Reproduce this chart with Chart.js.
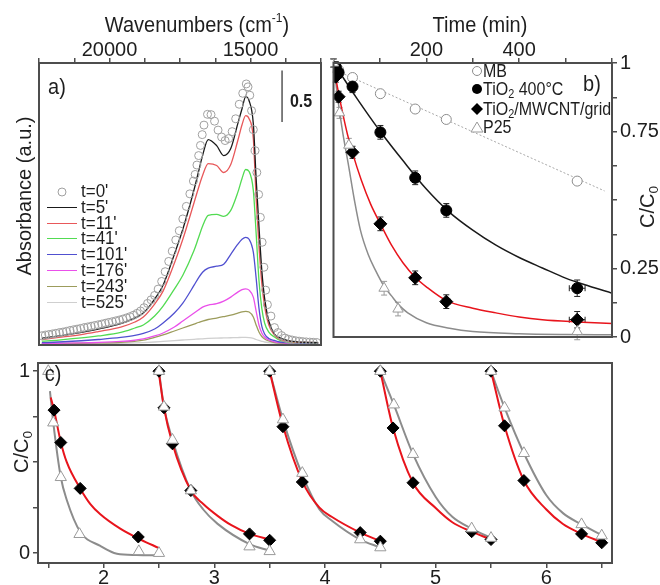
<!DOCTYPE html>
<html>
<head>
<meta charset="utf-8">
<script src="https://cdn.jsdelivr.net/npm/chart.js@4/dist/chart.umd.min.js"></script>
<style>
body { margin: 0; background: #fff; width: 660px; height: 585px; position: relative; overflow: hidden;
       font-family: "Liberation Sans", Arial, sans-serif; color: #1e1e1e; }
.box { position: absolute; }
.c { position: absolute; transform: translate(-50%, -50%) scaleY(1.12); white-space: nowrap; line-height: 1; }
.l { position: absolute; transform: translate(0, -50%) scaleY(1.12); white-space: nowrap; line-height: 1; }
.rot { transform: translate(-50%, -50%) rotate(-90deg); }
sub { font-size: 0.68em; vertical-align: -0.3em; line-height: 0; }
sup { font-size: 0.6em; vertical-align: 0.75em; line-height: 0; }
.ln { position: absolute; left: 47px; width: 30px; height: 0; border-top: 1.5px solid; }
</style>
</head>
<body>
<div class="box" style="left:0;top:0"><canvas id="ca" width="326" height="350"></canvas></div>
<div class="box" style="left:326px;top:0"><canvas id="cb" width="334" height="350"></canvas></div>
<div class="box" style="left:0;top:350px"><canvas id="cc" width="660" height="235"></canvas></div>

<!-- panel a texts -->
<div class="c" style="left:197px;top:24px;font-size:20px">Wavenumbers (cm<sup>-1</sup>)</div>
<div class="c rot" style="left:24px;top:196px;font-size:20px">Absorbance (a.u.)</div>
<div class="c" style="left:57px;top:86px;font-size:20px">a)</div>
<div class="c" style="left:301px;top:101px;font-size:16px;font-weight:bold">0.5</div>
<svg style="position:absolute;left:56px;top:186px" width="12" height="12"><circle cx="6" cy="6" r="4" fill="none" stroke="#a0a0a0" stroke-width="1"/></svg>
<div class="l" style="left:81px;top:191px;font-size:17px">t=0'</div>
<div class="ln" style="top:207px;border-color:#1a1a1a"></div>
<div class="l" style="left:81px;top:207px;font-size:17px">t=5'</div>
<div class="ln" style="top:223px;border-color:#e8585a"></div>
<div class="l" style="left:81px;top:223px;font-size:17px">t=11'</div>
<div class="ln" style="top:238px;border-color:#52db52"></div>
<div class="l" style="left:81px;top:238px;font-size:17px">t=41'</div>
<div class="ln" style="top:254px;border-color:#5050d0"></div>
<div class="l" style="left:81px;top:254px;font-size:17px">t=101'</div>
<div class="ln" style="top:270px;border-color:#ea50ea"></div>
<div class="l" style="left:81px;top:270px;font-size:17px">t=176'</div>
<div class="ln" style="top:286px;border-color:#9c9c5c"></div>
<div class="l" style="left:81px;top:286px;font-size:17px">t=243'</div>
<div class="ln" style="top:302px;border-color:#cfcfcf"></div>
<div class="l" style="left:81px;top:302px;font-size:17px">t=525'</div>

<!-- panel b texts -->
<div class="c" style="left:480px;top:24px;font-size:20px">Time (min)</div>
<div class="c" style="left:592px;top:83px;font-size:20px">b)</div>
<div class="c rot" style="left:647px;top:207px;font-size:20px">C/C<sub>0</sub></div>
<svg style="position:absolute;left:471px;top:65px" width="12" height="12"><circle cx="6" cy="6" r="4.5" fill="#fff" stroke="#8c8c8c" stroke-width="1"/></svg>
<div class="l" style="left:483px;top:71px;font-size:16px">MB</div>
<svg style="position:absolute;left:471px;top:83px" width="12" height="12"><circle cx="6" cy="6" r="5" fill="#000"/></svg>
<div class="l" style="left:483px;top:89px;font-size:16px">TiO<sub>2</sub> 400°C</div>
<svg style="position:absolute;left:470px;top:102px" width="14" height="14"><polygon points="7,1 13,7 7,13 1,7" fill="#000"/></svg>
<div class="l" style="left:483px;top:109px;font-size:16px">TiO<sub>2</sub>/MWCNT/grid</div>
<svg style="position:absolute;left:470px;top:121px" width="14" height="12"><polygon points="7,1 13,11 1,11" fill="#fff" stroke="#9a9a9a" stroke-width="1"/></svg>
<div class="l" style="left:483px;top:127px;font-size:16px">P25</div>

<!-- panel c texts -->
<div class="c" style="left:53px;top:373px;font-size:20px">c)</div>
<div class="c rot" style="left:21px;top:452px;font-size:20px">C/C<sub>0</sub></div>

<script>
Chart.defaults.font.family = '"Liberation Sans", Arial, sans-serif';

// ---------- panel a: spectra ----------
const wnGrid = [22400, 21800, 21000, 20400, 19600, 19100, 18800, 18400, 18100, 17700, 17400, 17000,
  16850, 16700, 16500, 16200, 15950, 15700, 15450, 15300, 15170, 15050, 14900, 14800, 14700, 14600,
  14500, 14350, 14150, 13950, 13700, 13350, 13000, 12600];
const absT5 = [0.055, 0.077, 0.111, 0.144, 0.197, 0.250, 0.298, 0.433, 0.567, 0.865, 1.106, 1.490,
  1.654, 1.817, 1.971, 1.913, 1.817, 1.885, 2.125, 2.269, 2.385, 2.346, 2.125, 1.596, 1.135, 0.712,
  0.442, 0.221, 0.096, 0.058, 0.034, 0.021, 0.016, 0.013];
const absT11 = [0.043, 0.063, 0.091, 0.120, 0.163, 0.212, 0.260, 0.385, 0.510, 0.779, 1.010, 1.365,
  1.500, 1.625, 1.740, 1.721, 1.654, 1.731, 1.962, 2.115, 2.202, 2.173, 1.981, 1.404, 0.942, 0.587,
  0.365, 0.183, 0.087, 0.043, 0.024, 0.017, 0.014, 0.012];
const absT41 = [0.027, 0.038, 0.058, 0.077, 0.111, 0.154, 0.183, 0.269, 0.365, 0.529, 0.663, 0.904,
  1.019, 1.135, 1.240, 1.250, 1.231, 1.288, 1.462, 1.596, 1.683, 1.663, 1.481, 1.067, 0.615, 0.346,
  0.202, 0.115, 0.067, 0.034, 0.019, 0.013, 0.012, 0.010];
const absT101 = [0.012, 0.019, 0.031, 0.043, 0.063, 0.082, 0.101, 0.144, 0.202, 0.298, 0.394, 0.567,
  0.635, 0.692, 0.731, 0.750, 0.769, 0.865, 0.962, 1.010, 1.029, 1.010, 0.885, 0.635, 0.346, 0.173,
  0.096, 0.053, 0.034, 0.019, 0.012, 0.008, 0.007, 0.006];
const absT176 = [0.005, 0.007, 0.010, 0.014, 0.024, 0.036, 0.048, 0.077, 0.106, 0.163, 0.221, 0.298,
  0.327, 0.356, 0.375, 0.389, 0.413, 0.452, 0.500, 0.524, 0.532, 0.519, 0.452, 0.317, 0.183, 0.106,
  0.067, 0.038, 0.021, 0.012, 0.007, 0.005, 0.004, 0.004];
const absT243 = [0.002, 0.004, 0.007, 0.010, 0.016, 0.026, 0.036, 0.063, 0.087, 0.125, 0.154, 0.192,
  0.207, 0.221, 0.236, 0.250, 0.264, 0.279, 0.298, 0.310, 0.314, 0.308, 0.260, 0.183, 0.115, 0.072,
  0.048, 0.029, 0.014, 0.008, 0.005, 0.003, 0.002, 0.002];
const absT525 = [0.000, 0.001, 0.002, 0.004, 0.007, 0.010, 0.013, 0.019, 0.025, 0.033, 0.038, 0.045,
  0.048, 0.050, 0.053, 0.056, 0.058, 0.060, 0.062, 0.063, 0.063, 0.061, 0.053, 0.043, 0.034, 0.026,
  0.019, 0.013, 0.008, 0.005, 0.003, 0.002, 0.001, 0.000];

// t=0 measured points (open circles)
const wnT0 = [22400, 22275, 22150, 22025, 21900, 21775, 21650, 21525, 21400, 21275, 21150, 21025,
  20900, 20775, 20650, 20525, 20400, 20275, 20150, 20025, 19900, 19775, 19650, 19525, 19400, 19275,
  19150, 19025, 18900, 18775, 18650, 18525, 18400, 18275, 18150, 18025, 17900, 17775, 17650, 17525,
  17400, 17275, 17150, 17025, 16900, 16775, 16650, 16525, 16400, 16275, 16150, 16025, 15900, 15775,
  15650, 15525, 15400, 15275, 15150, 15025, 14900, 14775, 14650, 14525, 14400, 14275, 14150, 14025,
  13900, 13775, 13650, 13525, 13400, 13275, 13150, 13025, 12900, 12775, 12650,
  16962, 16838, 16712, 15088, 14962, 14838, 14712, 14588, 14462];
const absT0 = [0.079, 0.086, 0.091, 0.097, 0.103, 0.110, 0.115, 0.122, 0.130, 0.137, 0.143, 0.150,
  0.158, 0.164, 0.171, 0.178, 0.185, 0.192, 0.200, 0.208, 0.215, 0.223, 0.231, 0.240, 0.251, 0.263,
  0.277, 0.295, 0.318, 0.350, 0.391, 0.426, 0.468, 0.529, 0.603, 0.697, 0.796, 0.895, 1.003, 1.092,
  1.206, 1.327, 1.448, 1.571, 1.726, 1.915, 2.111, 2.215, 2.212, 2.149, 2.063, 1.996, 1.962, 1.981,
  2.048, 2.172, 2.312, 2.418, 2.508, 2.399, 2.067, 1.654, 1.221, 0.740, 0.379, 0.269, 0.158, 0.110,
  0.081, 0.057, 0.045, 0.038, 0.031, 0.027, 0.023, 0.020, 0.018, 0.016, 0.014,
  1.635, 1.817, 2.019, 2.480, 2.250, 1.865, 1.442, 0.981, 0.519];

const scaleBarWn = [13881, 13881];
const scaleBarAbs = [2.141, 2.637];

// ---------- panel b: kinetics ----------
const timeB = [0, 5, 11, 41, 101, 176, 243, 525];
const mbB = [1.0, 0.99, 0.975, 0.947, 0.888, 0.832, 0.794, 0.569];
const tio2B = [1.0, 0.985, 0.965, 0.914, 0.747, 0.581, 0.462, 0.178];
const mwcntB = [1.0, 0.95, 0.877, 0.674, 0.413, 0.216, 0.129, 0.063];
const errYB = [0.015, 0.02, 0.02, 0.022, 0.025, 0.025, 0.025, 0.03];
const errXB = [0, 0, 0, 0, 6, 8, 8, 17];
const timeP25 = [0, 13, 33, 109, 139, 525];
const p25B = [1.0, 0.818, 0.70, 0.178, 0.102, 0.02];
const errYP25 = [0.015, 0.02, 0.025, 0.025, 0.025, 0.03];
const mbFitT = [16, 584];
const mbFitV = [0.965, 0.533];
const tio2FitT = [0, 50, 100, 150, 200, 250, 300, 350, 400, 450, 500, 550, 600];
const tio2FitV = [1.0, 0.872, 0.752, 0.643, 0.54, 0.455, 0.39, 0.335, 0.29, 0.252, 0.215, 0.186, 0.16];
const mwFitT = [0, 5, 11, 20, 30, 41, 60, 80, 101, 125, 150, 176, 200, 244, 300, 350, 400, 450, 525, 600];
const mwFitV = [1.0, 0.945, 0.89, 0.815, 0.74, 0.672, 0.572, 0.485, 0.413, 0.335, 0.27, 0.218, 0.183,
  0.132, 0.105, 0.088, 0.073, 0.063, 0.055, 0.049];
const p25FitT = [0, 10, 20, 33, 45, 58, 75, 90, 109, 125, 139, 160, 200, 250, 300, 400, 500, 600];
const p25FitV = [1.0, 0.86, 0.745, 0.62, 0.5, 0.39, 0.3, 0.245, 0.185, 0.15, 0.12, 0.088, 0.052,
  0.032, 0.02, 0.012, 0.009, 0.008];

// ---------- panel c: recycling ----------
const mwCX = [1.552, 1.613, 1.788, 2.313, 2.5, 2.545, 2.622, 2.788, 3.318, 3.5, 3.5, 3.62, 3.795, 4.318,
  4.5, 4.5, 4.615, 4.795, 5.325, 5.5, 5.5, 5.622, 5.797, 6.318, 6.5];
const mwCY = [0.786, 0.608, 0.356, 0.089, 1.0, 0.799, 0.601, 0.344, 0.106, 0.071, 1.0, 0.695, 0.391, 0.113,
  0.066, 1.0, 0.688, 0.387, 0.118, 0.075, 1.0, 0.70, 0.399, 0.106, 0.057];
const p25CX = [1.5, 1.545, 1.613, 1.782, 2.318, 2.5, 2.5, 2.545, 2.622, 2.788, 3.318, 3.5, 3.5, 3.62, 3.795,
  4.318, 4.5, 4.5, 4.622, 4.795, 5.325, 5.5, 5.5, 5.622, 5.797, 6.318, 6.5];
const p25CY = [1.0, 0.717, 0.417, 0.104, 0.010, 0.0, 1.0, 0.804, 0.622, 0.344, 0.036, 0.010, 1.0, 0.734, 0.44,
  0.075, 0.031, 1.0, 0.816, 0.544, 0.135, 0.083, 1.0, 0.799, 0.549, 0.158, 0.096];
const redCX = [1.522, 1.552, 1.613, 1.667, 1.788, 1.88, 1.97, 2.15, 2.334, 2.5, 2.5,
  2.5, 2.545, 2.622, 2.788, 2.9, 3.03, 3.15, 3.318, 3.5, 3.5,
  3.5, 3.62, 3.795, 3.95, 4.06, 4.318, 4.5, 4.5,
  4.5, 4.615, 4.795, 5.0, 5.15, 5.325, 5.5, 5.5,
  5.5, 5.622, 5.797, 6.0, 6.15, 6.318, 6.5];
const redCY = [0.856, 0.786, 0.61, 0.50, 0.356, 0.27, 0.214, 0.135, 0.075, 0.028, null,
  0.986, 0.80, 0.601, 0.344, 0.27, 0.205, 0.155, 0.106, 0.075, null,
  1.0, 0.70, 0.395, 0.25, 0.2, 0.113, 0.066, null,
  1.0, 0.688, 0.387, 0.248, 0.17, 0.118, 0.075, null,
  1.0, 0.70, 0.399, 0.24, 0.16, 0.106, 0.06];
const grayCX = [1.515, 1.545, 1.613, 1.667, 1.788, 1.97, 2.12, 2.3, 2.5, 2.5,
  2.5, 2.545, 2.622, 2.788, 2.9, 3.03, 3.318, 3.5, 3.5,
  3.5, 3.62, 3.795, 3.95, 4.06, 4.318, 4.5, 4.5,
  4.5, 4.622, 4.795, 5.0, 5.15, 5.325, 5.5, 5.5,
  5.5, 5.622, 5.797, 6.0, 6.15, 6.318, 6.5];
const grayCY = [0.89, 0.717, 0.417, 0.292, 0.118, 0.04, -0.003, -0.01, -0.012, null,
  1.0, 0.804, 0.622, 0.344, 0.24, 0.161, 0.05, 0.014, null,
  1.0, 0.734, 0.43, 0.24, 0.18, 0.075, 0.031, null,
  1.0, 0.816, 0.544, 0.309, 0.2, 0.135, 0.083, null,
  1.0, 0.80, 0.549, 0.318, 0.22, 0.158, 0.1];

function pts(xs, ys) { return xs.map((x, i) => ({ x: x, y: ys[i] })); }

const frame = {
  id: 'frame',
  afterDraw(chart) {
    const a = chart.chartArea, ctx = chart.ctx;
    ctx.save();
    ctx.strokeStyle = '#4d4d4d';
    ctx.lineWidth = 2;
    ctx.strokeRect(a.left, a.top, a.right - a.left, a.bottom - a.top);
    ctx.restore();
  }
};

const errorBars = {
  id: 'errorBars',
  beforeDatasetsDraw(chart) {
    const ctx = chart.ctx, xs = chart.scales.x, ys = chart.scales.y;
    chart.data.datasets.forEach(ds => {
      if (!ds.errY) return;
      ctx.save();
      ctx.strokeStyle = ds.errColor;
      ctx.lineWidth = 1;
      ds.data.forEach((p, i) => {
        const px = xs.getPixelForValue(p.x), py = ys.getPixelForValue(p.y);
        const ey = ds.errY[i], ex = ds.errX ? ds.errX[i] : 0;
        ctx.beginPath();
        if (ey) {
          const t = ys.getPixelForValue(p.y + ey), b = ys.getPixelForValue(p.y - ey);
          ctx.moveTo(px, t); ctx.lineTo(px, b);
          ctx.moveTo(px - 3, t); ctx.lineTo(px + 3, t);
          ctx.moveTo(px - 3, b); ctx.lineTo(px + 3, b);
        }
        if (ex) {
          const l = xs.getPixelForValue(p.x - ex), r = xs.getPixelForValue(p.x + ex);
          ctx.moveTo(l, py); ctx.lineTo(r, py);
          ctx.moveTo(l, py - 3); ctx.lineTo(l, py + 3);
          ctx.moveTo(r, py - 3); ctx.lineTo(r, py + 3);
        }
        ctx.stroke();
      });
      ctx.restore();
    });
  }
};

const tickGrid = { drawOnChartArea: false, drawTicks: true, tickLength: 5, color: '#4d4d4d', lineWidth: 1.5 };
const tickFont = { size: 20, lineHeight: 1 };

function specLine(ys, color) {
  return { data: pts(wnGrid, ys), borderColor: color, borderWidth: 1.3, pointRadius: 0,
           cubicInterpolationMode: 'monotone', order: 5 };
}

new Chart(document.getElementById('ca'), {
  type: 'line',
  data: {
    datasets: [
      { data: pts(wnT0, absT0), showLine: false, pointRadius: 4, pointBorderWidth: 1,
        pointBorderColor: '#a0a0a0', pointBackgroundColor: 'rgba(255,255,255,0)', order: 1 },
      specLine(absT5, '#1a1a1a'),
      specLine(absT11, '#e8585a'),
      specLine(absT41, '#52db52'),
      specLine(absT101, '#5050d0'),
      specLine(absT176, '#ea50ea'),
      specLine(absT243, '#9c9c5c'),
      specLine(absT525, '#cfcfcf'),
      { data: pts(scaleBarWn, scaleBarAbs), borderColor: '#555', borderWidth: 1.5, pointRadius: 0 }
    ]
  },
  options: {
    responsive: false, animation: false,
    layout: { padding: { left: 39, right: 3, top: 0, bottom: 4 } },
    plugins: { legend: { display: false }, tooltip: { enabled: false } },
    scales: {
      x: {
        type: 'linear', position: 'top', reverse: true, min: 12500, max: 22500,
        afterFit: s => { s.height = 63; },
        grid: tickGrid, border: { display: false },
        ticks: {
          stepSize: 1250, autoSkip: false, maxRotation: 0, padding: -2,
          color: '#1e1e1e', font: tickFont,
          callback: v => (Math.round(v) === 20000 || Math.round(v) === 15000) ? String(Math.round(v)) : ''
        }
      },
      y: { display: false, min: -0.01, max: 2.71 }
    }
  },
  plugins: [frame]
});

new Chart(document.getElementById('cb'), {
  type: 'line',
  data: {
    datasets: [
      { data: pts(mbFitT, mbFitV), borderColor: '#a8a8a8', borderWidth: 1, borderDash: [2, 2],
        pointRadius: 0, order: 6 },
      { data: pts(tio2FitT, tio2FitV), borderColor: '#1a1a1a', borderWidth: 1.5, pointRadius: 0,
        cubicInterpolationMode: 'monotone', order: 6 },
      { data: pts(mwFitT, mwFitV), borderColor: '#e8141c', borderWidth: 1.5, pointRadius: 0,
        cubicInterpolationMode: 'monotone', order: 6 },
      { data: pts(p25FitT, p25FitV), borderColor: '#8c8c8c', borderWidth: 1.5, pointRadius: 0,
        cubicInterpolationMode: 'monotone', order: 6 },
      { data: pts(timeB, mbB), showLine: false, pointStyle: 'circle', pointRadius: 5,
        pointBackgroundColor: '#fff', pointBorderColor: '#8c8c8c', pointBorderWidth: 1, order: 4 },
      { data: pts(timeB, tio2B), showLine: false, pointStyle: 'circle', pointRadius: 5.5,
        pointBackgroundColor: '#000', pointBorderColor: '#000', order: 3,
        errY: errYB, errX: errXB, errColor: '#222' },
      { data: pts(timeB, mwcntB), showLine: false, pointStyle: 'rectRot', pointRadius: 6.5,
        pointBackgroundColor: '#000', pointBorderColor: '#000', order: 2,
        errY: errYB, errX: errXB, errColor: '#222' },
      { data: pts(timeP25, p25B), showLine: false, pointStyle: 'triangle', pointRadius: 6,
        pointBackgroundColor: '#fff', pointBorderColor: '#9a9a9a', pointBorderWidth: 1, order: 1,
        errY: errYP25, errColor: '#9a9a9a' }
    ]
  },
  options: {
    responsive: false, animation: false,
    layout: { padding: { left: 2, right: 0, top: 0, bottom: 3 } },
    plugins: { legend: { display: false }, tooltip: { enabled: false } },
    scales: {
      x: {
        type: 'linear', position: 'top', min: 0, max: 600,
        afterFit: s => { s.height = 63; },
        grid: tickGrid, border: { display: false },
        ticks: {
          stepSize: 100, autoSkip: false, maxRotation: 0, padding: -2, color: '#1e1e1e', font: tickFont,
          callback: v => (v === 200 || v === 400) ? String(v) : ''
        }
      },
      y: {
        type: 'linear', position: 'right', min: 0, max: 1,
        afterFit: s => { s.width = 48; },
        grid: tickGrid, border: { display: false },
        ticks: {
          stepSize: 0.125, autoSkip: false, padding: 3, color: '#1e1e1e', font: tickFont,
          callback: v => {
            const lab = { '1': '1', '0.75': '0.75', '0.25': '0.25', '0': '0' };
            const k = String(Math.round(v * 1000) / 1000);
            return lab[k] !== undefined ? lab[k] : '';
          }
        }
      }
    }
  },
  plugins: [errorBars, frame]
});

new Chart(document.getElementById('cc'), {
  type: 'line',
  data: {
    datasets: [
      { data: pts(redCX, redCY), borderColor: '#e8141c', borderWidth: 2, pointRadius: 0,
        cubicInterpolationMode: 'monotone', spanGaps: false, order: 5 },
      { data: pts(grayCX, grayCY), borderColor: '#8c8c8c', borderWidth: 2, pointRadius: 0,
        cubicInterpolationMode: 'monotone', spanGaps: false, order: 6 },
      { data: pts(mwCX, mwCY), showLine: false, pointStyle: 'rectRot', pointRadius: 6,
        pointBackgroundColor: '#000', pointBorderColor: '#000', order: 2 },
      { data: pts(p25CX, p25CY), showLine: false, pointStyle: 'triangle', pointRadius: 6.5,
        pointBackgroundColor: '#fff', pointBorderColor: '#9a9a9a', pointBorderWidth: 1, order: 1 }
    ]
  },
  options: {
    responsive: false, animation: false,
    layout: { padding: { left: 0, right: 48, top: 2, bottom: 0 } },
    plugins: { legend: { display: false }, tooltip: { enabled: false } },
    scales: {
      x: {
        type: 'linear', position: 'bottom', min: 1.407, max: 6.593,
        afterFit: s => { s.height = 22; },
        grid: tickGrid, border: { display: false },
        ticks: {
          stepSize: 0.5, autoSkip: false, maxRotation: 0, includeBounds: false, padding: 0,
          color: '#1e1e1e', font: tickFont,
          callback: v => Math.abs(v - Math.round(v)) < 1e-6 ? String(Math.round(v)) : ''
        }
      },
      y: {
        type: 'linear', position: 'left', min: -0.054, max: 1.045,
        afterFit: s => { s.width = 38; },
        grid: tickGrid, border: { display: false },
        ticks: {
          stepSize: 0.25, autoSkip: false, includeBounds: false, padding: 3,
          color: '#1e1e1e', font: tickFont,
          callback: v => Math.abs(v - 1) < 1e-6 ? '1' : (Math.abs(v) < 1e-6 ? '0' : '')
        }
      }
    }
  },
  plugins: [frame]
});
</script>
</body>
</html>
